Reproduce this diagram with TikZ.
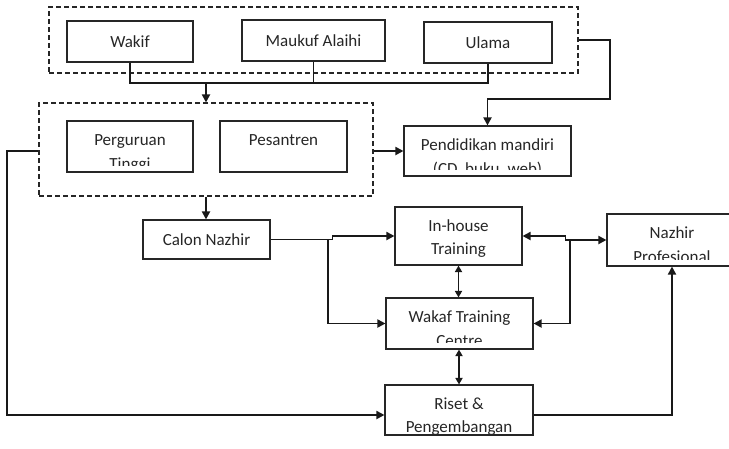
\documentclass[tikz,border=0pt]{standalone}
\usepackage{fontspec}
\setmainfont{Carlito}
\usetikzlibrary{positioning, arrows.meta}

% Stile kotak, grup putus-putus dan garis penghubung
\tikzset{
    kotak/.style={
        rectangle,
        draw=black!85,
        line width=1.1pt,
        inner sep=0pt
    },
    grup/.style={
        rectangle,
        draw=black!85,
        line width=1.1pt,
        dash pattern=on 5pt off 3pt,
        inner sep=0pt
    },
    garis/.style={draw=black!90, line width=1.8pt},
    panah/.style={garis, ->},
    dua/.style={garis, {Triangle[length=6.5pt, width=7pt]}-{Triangle[length=6.5pt, width=7pt]}},
    % teks dua baris; baris kedua terpotong oleh batas teks di dalam kotak
    baris/.style 2 args={
        path picture={
            \clip ([yshift=6.5pt]path picture bounding box.south west) rectangle (path picture bounding box.north east);
            \node[anchor=base] at ([yshift=-24pt]path picture bounding box.north) {#1};
            \node[anchor=base] at ([yshift=-48.5pt]path picture bounding box.north) {#2};
        }
    },
    % teks dua baris tanpa potongan
    penuh/.style 2 args={
        path picture={
            \node[anchor=base] at ([yshift=-24pt]path picture bounding box.north) {#1};
            \node[anchor=base] at ([yshift=-47pt]path picture bounding box.north) {#2};
        }
    }
}

\begin{document}
\begin{tikzpicture}[x=1pt, y=-1pt, >={Triangle[length=8pt, width=8pt]},
    font=\fontsize{17}{23}\selectfont, text=black!85]

    \useasboundingbox (0,0) rectangle (729,448);

    % --- Pihak wakaf ---
    \node[grup, minimum width=529, minimum height=66] (grpA) at (313.5,40) {};
    \node[kotak, minimum width=126, minimum height=41] (wakif) at (130,41.5) {Wakif};
    \node[kotak, minimum width=143, minimum height=41] (maukuf) at (313.5,40.5) {Maukuf Alaihi};
    \node[kotak, minimum width=128, minimum height=41] (ulama) at (488,42.5) {Ulama};

    % --- Lembaga pendidikan ---
    \node[grup, minimum width=334, minimum height=93] (grpB) at (206,149.5) {};
    \node[kotak, minimum width=126, minimum height=51, baris={Perguruan}{Tinggi}] (pt) at (130,146.5) {};
    \node[kotak, minimum width=127, minimum height=51, baris={Pesantren}{}] (ps) at (283.5,146.5) {};
    \node[kotak, minimum width=167, minimum height=50, baris={Pendidikan mandiri}{(CD, buku, web)}] (pm) at (487.5,151) {};

    % --- Jalur nazhir ---
    \node[kotak, minimum width=127, minimum height=39] (cn) at (206.5,239.5) {Calon Nazhir};
    \node[kotak, minimum width=127, minimum height=58, penuh={In-house}{Training}] (ih) at (458.5,236) {};
    \node[kotak, minimum width=130, minimum height=52, baris={Nazhir}{Profesional}] (np) at (672,240) {};
    \node[kotak, minimum width=147, minimum height=51, baris={Wakaf Training}{Centre}] (wtc) at (459.5,323.5) {};
    \node[kotak, minimum width=148, minimum height=50, penuh={Riset \&}{Pengembangan}] (rp) at (459,410) {};

    % Titik belok
    \coordinate (jalur) at (207,83);
    \coordinate (belok) at (610,99);
    \coordinate (kiri) at (7,151);
    \coordinate (cabang) at (328,239.5);
    \coordinate (cabang2) at (570,240);

    % --- Penghubung ---
    \draw[garis] (wakif.south) |- (ulama.south |- jalur) -- (ulama.south);
    \draw[garis] (maukuf.south) -- (maukuf.south |- jalur);
    \draw[panah] (grpB.north |- jalur) -- (grpB.north);
    \draw[panah] (grpA.east) -| (belok) -| (pm.north);
    \draw[panah] (grpB.east |- pm.west) -- (pm.west);
    \draw[panah] (grpB.south) -- (grpB.south |- cn.north);
    \draw[panah] (grpB.west |- kiri) -- (kiri) |- ([yshift=-5pt]rp.west);

    \draw[panah] (cn.east) -- ++(62,0) |- (ih.west);
    \draw[panah] (cabang) |- (wtc.west);
    \draw[garis, <->] (ih.east) -- ++(43,0) |- (np.west);
    \draw[panah] (cabang2) |- (wtc.east);
    \draw[dua] (ih.south) -- (ih.south |- wtc.north);
    \draw[dua] (rp.north |- wtc.south) -- (rp.north);
    \draw[panah] ([yshift=-5pt]rp.east) -| (np.south);

\end{tikzpicture}
\end{document}
